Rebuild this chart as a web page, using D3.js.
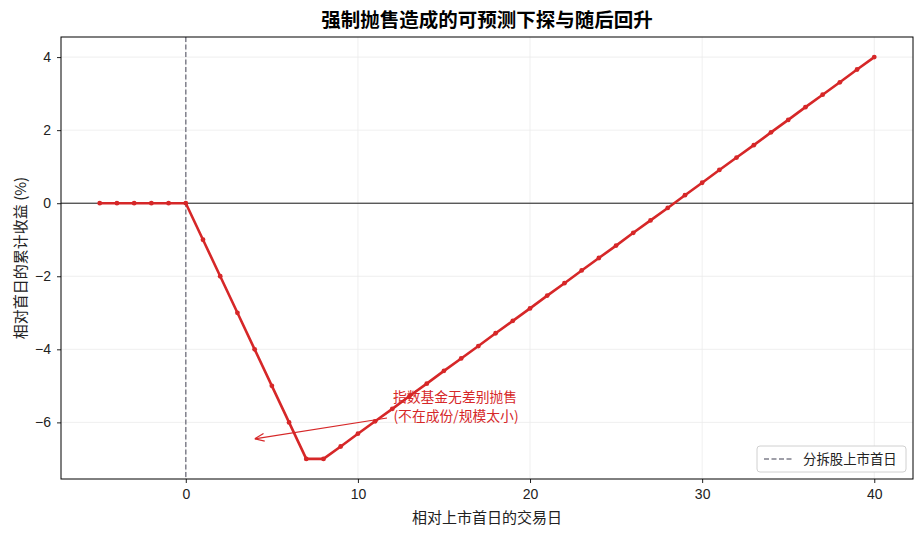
<!DOCTYPE html>
<html lang="zh">
<head>
<meta charset="utf-8">
<script src="https://d3js.org/d3.v7.min.js"></script>
<style>
  body { margin: 0; background: #fff; }
  text { font-family: "Liberation Sans", "Noto Sans CJK SC", sans-serif; }
  .cjk { font-family: "Noto Sans CJK SC", sans-serif; }
</style>
</head>
<body>
<svg width="924" height="536"></svg>
<script>
  // trading days relative to the first listing day
  var days = [-5, -4, -3, -2, -1, 0, 1, 2, 3, 4, 5, 6, 7, 8, 9, 10, 11, 12, 13, 14, 15, 16, 17, 18, 19, 20,
              21, 22, 23, 24, 25, 26, 27, 28, 29, 30, 31, 32, 33, 34, 35, 36, 37, 38, 39, 40];
  // cumulative return (%)
  var returns = [0, 0, 0, 0, 0, 0, -1, -2, -3, -4, -5, -6, -7, -7, -6.66, -6.31, -5.97, -5.63, -5.28, -4.94,
                 -4.59, -4.25, -3.91, -3.56, -3.22, -2.88, -2.53, -2.19, -1.84, -1.50, -1.16, -0.81, -0.47,
                 -0.13, 0.22, 0.56, 0.91, 1.25, 1.59, 1.94, 2.28, 2.63, 2.97, 3.31, 3.66, 4.00];
  var xTicks = [0, 10, 20, 30, 40];
  var yTicks = [-6, -4, -2, 0, 2, 4];

  var svg = d3.select("svg");
  var pL = 61, pR = 913, pT = 37, pB = 479;
  var red = "#d62728";

  var x = d3.scaleLinear().domain([-7.25, 42.25]).range([pL, pR]);
  var y = d3.scaleLinear().domain([-7.55, 4.55]).range([pB, pT]);

  // grid
  svg.append("g").selectAll("line").data(xTicks).enter().append("line")
     .attr("x1", d => x(d)).attr("x2", d => x(d))
     .attr("y1", pT).attr("y2", pB)
     .attr("stroke", "#ebebeb").attr("stroke-width", 0.8);
  svg.append("g").selectAll("line").data(yTicks).enter().append("line")
     .attr("x1", pL).attr("x2", pR)
     .attr("y1", d => y(d)).attr("y2", d => y(d))
     .attr("stroke", "#ebebeb").attr("stroke-width", 0.8);

  // zero line and listing day marker
  svg.append("line")
     .attr("x1", pL).attr("x2", pR).attr("y1", y(0)).attr("y2", y(0))
     .attr("stroke", "#000").attr("stroke-width", 0.9);
  svg.append("line")
     .attr("x1", x(0)).attr("x2", x(0)).attr("y1", pT).attr("y2", pB)
     .attr("stroke", "#80808c").attr("stroke-width", 1.5).attr("stroke-dasharray", "5,2.5");

  // axes
  var gx = svg.append("g").attr("transform", "translate(0," + pB + ")")
     .call(d3.axisBottom(x).tickValues(xTicks).tickSize(4).tickPadding(6));
  var gy = svg.append("g").attr("transform", "translate(" + pL + ",0)")
     .call(d3.axisLeft(y).tickValues(yTicks).tickSize(4).tickPadding(6)
       .tickFormat(d => d < 0 ? "\u2212" + Math.abs(d) : d));
  [gx, gy].forEach(function (g) {
    g.select(".domain").remove();
    g.selectAll("text").attr("font-size", 14).attr("fill", "#222");
    g.selectAll("line").attr("stroke", "#222");
  });
  svg.append("rect")
     .attr("x", pL).attr("y", pT).attr("width", pR - pL).attr("height", pB - pT)
     .attr("fill", "none").attr("stroke", "#000").attr("stroke-width", 1);

  // series
  var pts = days.map((d, i) => [d, returns[i]]);
  svg.append("path").datum(pts)
     .attr("d", d3.line().x(d => x(d[0])).y(d => y(d[1])))
     .attr("fill", "none").attr("stroke", red).attr("stroke-width", 2.6)
     .attr("stroke-linejoin", "round");
  svg.append("g").selectAll("circle").data(pts).enter().append("circle")
     .attr("cx", d => x(d[0])).attr("cy", d => y(d[1])).attr("r", 2.4)
     .attr("fill", red);

  // annotation
  var defs = svg.append("defs");
  defs.append("marker").attr("id", "arr").attr("viewBox", "0 0 10 10")
     .attr("refX", 10).attr("refY", 5).attr("markerWidth", 8).attr("markerHeight", 8)
     .attr("orient", "auto-start-reverse")
     .append("path").attr("d", "M0,1 L10,5 L0,9").attr("fill", "none")
     .attr("stroke", red).attr("stroke-width", 1.3);
  svg.append("line")
     .attr("x1", 387).attr("y1", 418).attr("x2", x(4)).attr("y2", y(-6.45))
     .attr("stroke", red).attr("stroke-width", 1.2).attr("marker-end", "url(#arr)");
  var ann = svg.append("text").attr("class", "cjk").attr("fill", red)
     .attr("font-size", 13.8).attr("text-anchor", "middle");
  ann.append("tspan").attr("x", 455).attr("y", 402).text("指数基金无差别抛售");
  ann.append("tspan").attr("x", 456).attr("y", 421).text("(不在成份/规模太小)");

  // legend
  svg.append("rect").attr("x", 757).attr("y", 446).attr("width", 149).attr("height", 26)
     .attr("rx", 3).attr("fill", "#fff").attr("stroke", "#d0d0d0");
  svg.append("line").attr("x1", 764).attr("x2", 792).attr("y1", 459).attr("y2", 459)
     .attr("stroke", "#80808c").attr("stroke-width", 1.5).attr("stroke-dasharray", "5,2.5");
  svg.append("text").attr("class", "cjk").attr("x", 803).attr("y", 464)
     .attr("font-size", 13.4).attr("fill", "#222").text("分拆股上市首日");

  // titles
  svg.append("text").attr("class", "cjk").attr("x", (pL + pR) / 2).attr("y", 27)
     .attr("text-anchor", "middle").attr("font-size", 19.5).attr("font-weight", "bold")
     .text("强制抛售造成的可预测下探与随后回升");
  svg.append("text").attr("class", "cjk").attr("x", (pL + pR) / 2).attr("y", 523)
     .attr("text-anchor", "middle").attr("font-size", 15).attr("fill", "#222")
     .text("相对上市首日的交易日");
  svg.append("text").attr("class", "cjk")
     .attr("transform", "translate(26," + ((pT + pB) / 2) + ") rotate(-90)")
     .attr("text-anchor", "middle").attr("font-size", 15).attr("fill", "#222")
     .text("相对首日的累计收益 (%)");
</script>
</body>
</html>
